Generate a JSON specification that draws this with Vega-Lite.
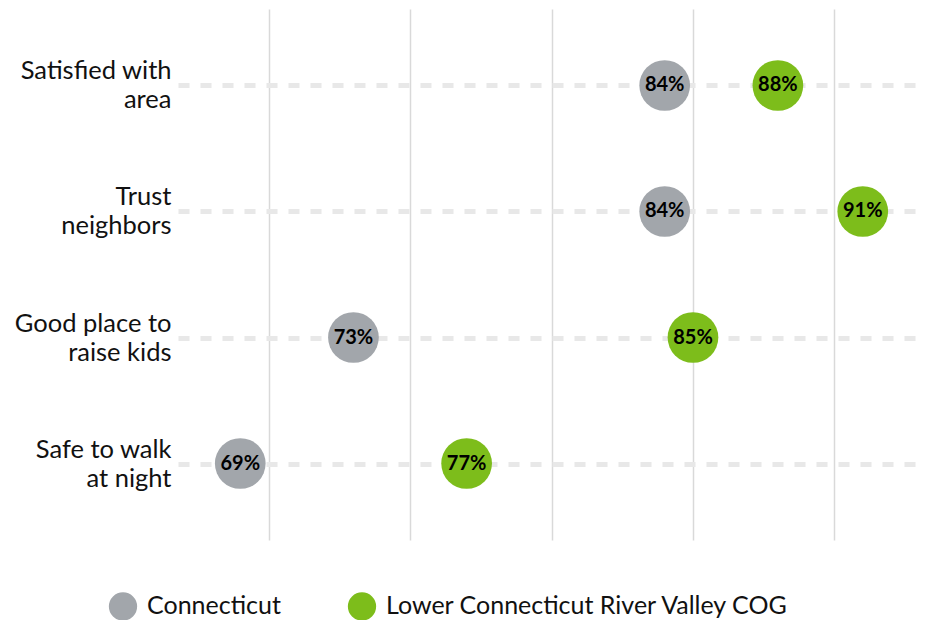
{
  "$schema": "https://vega.github.io/schema/vega-lite/v6.json",
  "width": 747,
  "height": 531,
  "autosize": "none",
  "padding": {"left": 178, "top": 9, "right": 10, "bottom": 80},
  "config": {
    "view": {"stroke": null},
    "font": "Lato"
  },
  "data": {
    "values": [
      {"question": "Satisfied with|area", "group": "Connecticut", "value": 0.84},
      {"question": "Satisfied with|area", "group": "Lower Connecticut River Valley COG", "value": 0.88},
      {"question": "Trust|neighbors", "group": "Connecticut", "value": 0.84},
      {"question": "Trust|neighbors", "group": "Lower Connecticut River Valley COG", "value": 0.91},
      {"question": "Good place to|raise kids", "group": "Connecticut", "value": 0.73},
      {"question": "Good place to|raise kids", "group": "Lower Connecticut River Valley COG", "value": 0.85},
      {"question": "Safe to walk|at night", "group": "Connecticut", "value": 0.69},
      {"question": "Safe to walk|at night", "group": "Lower Connecticut River Valley COG", "value": 0.77}
    ]
  },
  "encoding": {
    "x": {
      "field": "value",
      "type": "quantitative",
      "scale": {"domain": [0.668, 0.932], "nice": false, "zero": false},
      "axis": {
        "values": [0.7, 0.75, 0.8, 0.85, 0.9],
        "title": null,
        "labels": false,
        "ticks": false,
        "domain": false,
        "grid": true,
        "gridColor": "#d9d9d9",
        "gridWidth": 1.5
      }
    },
    "y": {
      "field": "question",
      "type": "nominal",
      "sort": null,
      "scale": {"type": "point", "padding": 0.607},
      "axis": {
        "title": null,
        "ticks": false,
        "domain": false,
        "grid": true,
        "gridDash": [11, 11],
        "gridWidth": 5,
        "gridColor": "#e8e8e8",
        "labelExpr": "split(datum.label, '|')",
        "labelFontSize": 25.5,
        "labelLineHeight": 29,
        "labelOffset": -14.5,
        "labelColor": "#111111",
        "labelPadding": 7,
        "labelAlign": "right",
        "labelBaseline": "middle",
        "labelLimit": 300
      }
    }
  },
  "layer": [
    {
      "mark": {"type": "circle", "opacity": 1, "size": 2570},
      "encoding": {
        "color": {
          "field": "group",
          "type": "nominal",
          "scale": {
            "domain": ["Connecticut", "Lower Connecticut River Valley COG"],
            "range": ["#a2a6ab", "#7dbd1b"]
          },
          "legend": {
            "title": null,
            "orient": "none",
            "legendX": -70,
            "legendY": 582,
            "direction": "horizontal",
            "symbolSize": 800,
            "symbolType": "circle",
            "symbolOpacity": 1,
            "labelFontSize": 25,
            "labelColor": "#111111",
            "labelOffset": 9,
            "columnPadding": 66,
            "labelLimit": 500
          }
        }
      }
    },
    {
      "mark": {"type": "text", "fontSize": 20, "fontWeight": "bold", "color": "#000000"},
      "encoding": {
        "text": {"field": "value", "type": "quantitative", "format": ".0%"}
      }
    }
  ]
}
